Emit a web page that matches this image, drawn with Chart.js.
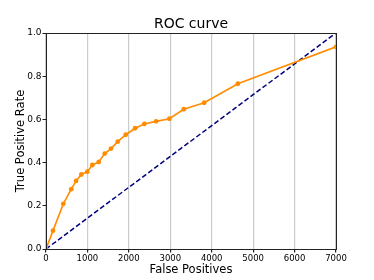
<!DOCTYPE html>
<html>
<head>
<meta charset="utf-8">
<script src="https://cdn.jsdelivr.net/npm/chart.js@4"></script>
<style>
  html, body { margin: 0; padding: 0; background: #fff; }
  #wrap { width: 374px; height: 280px; }
</style>
</head>
<body>
<div id="wrap"><canvas id="rocChart"></canvas></div>
<script>
// ROC curve points
const falsePositives = [0, 169, 418, 611, 725, 853, 998, 1119, 1273, 1418, 1570, 1731, 1925, 2150, 2374, 2657, 2978, 3325, 3819, 4631, 7000];
const truePositiveRate = [0, 0.085, 0.209, 0.277, 0.315, 0.345, 0.358, 0.389, 0.403, 0.442, 0.465, 0.497, 0.529, 0.559, 0.579, 0.591, 0.603, 0.647, 0.677, 0.765, 0.936];

// chance line
const chanceX = [0, 7000];
const chanceY = [0, 1];

// tick labels
const xTicks = [0, 1000, 2000, 3000, 4000, 5000, 6000, 7000];
const yTicks = [0, 0.2, 0.4, 0.6, 0.8, 1.0];

const FONT = 'DejaVu Sans';

function toPoints(xs, ys) {
    return xs.map((x, i) => ({ x: x, y: ys[i] }));
}

// box around the plot area, like matplotlib spines
const frame = {
    id: 'frame',
    afterDraw(chart) {
        const a = chart.chartArea;
        const ctx = chart.ctx;
        const l = Math.round(a.left) + 0.5, r = Math.round(a.right) + 0.5;
        const t = Math.round(a.top) + 0.5, b = Math.round(a.bottom) + 0.5;
        ctx.save();
        ctx.strokeStyle = '#222';
        ctx.lineWidth = 1;
        ctx.strokeRect(l, t, r - l, b - t);
        ctx.restore();
    }
};

function initChart() {
    const ctx = document.getElementById('rocChart').getContext('2d');

    new Chart(ctx, {
        type: 'scatter',
        data: {
            datasets: [{
                label: 'ROC',
                data: toPoints(falsePositives, truePositiveRate),
                showLine: true,
                borderColor: '#ff8c00',
                backgroundColor: '#ff8c00',
                borderWidth: 1.6,
                pointRadius: 2.4,
                pointBorderWidth: 0,
                tension: 0
            }, {
                label: 'chance',
                data: toPoints(chanceX, chanceY),
                showLine: true,
                borderColor: '#000080',
                borderWidth: 1.5,
                borderDash: [5, 2.5],
                pointRadius: 0,
                tension: 0
            }]
        },
        options: {
            responsive: true,
            maintainAspectRatio: false,
            animation: false,
            layout: { padding: { left: 0, right: 38, top: 0, bottom: 0 } },
            plugins: {
                legend: { display: false },
                tooltip: { enabled: false },
                title: {
                    display: true,
                    text: 'ROC curve',
                    fullSize: false,
                    color: '#000',
                    font: { family: FONT, size: 14, weight: 'normal' },
                    padding: { top: 15.6, bottom: 0.6 }
                }
            },
            scales: {
                x: {
                    type: 'linear',
                    min: 0,
                    max: 7000,
                    afterBuildTicks: s => { s.ticks = xTicks.map(v => ({ value: v })); },
                    afterFit: s => { s.height = 31; },
                    ticks: {
                        color: '#000',
                        font: { family: FONT, size: 8.5 },
                        padding: 1,
                        maxRotation: 0,
                        callback: v => String(v)
                    },
                    grid: {
                        color: 'rgba(170,170,170,0.6)',
                        lineWidth: 1.2,
                        tickColor: '#222',
                        tickLength: 3.5
                    },
                    border: { display: false },
                    title: {
                        display: true,
                        text: 'False Positives',
                        color: '#000',
                        font: { family: FONT, size: 11.5 },
                        padding: { top: 0, bottom: 3 }
                    }
                },
                y: {
                    type: 'linear',
                    min: 0,
                    max: 1,
                    afterBuildTicks: s => { s.ticks = yTicks.map(v => ({ value: v })); },
                    afterFit: s => { s.width = 46; },
                    ticks: {
                        color: '#000',
                        font: { family: FONT, size: 9 },
                        padding: 1,
                        callback: v => v.toFixed(1)
                    },
                    grid: {
                        drawOnChartArea: false,
                        tickColor: '#222',
                        tickLength: 3.5
                    },
                    border: { display: false },
                    title: {
                        display: true,
                        text: 'True Positive Rate',
                        color: '#000',
                        font: { family: FONT, size: 11.5 },
                        padding: { top: 14, bottom: 0 }
                    }
                }
            }
        },
        plugins: [frame]
    });
}

document.addEventListener('DOMContentLoaded', initChart);
</script>
</body>
</html>
